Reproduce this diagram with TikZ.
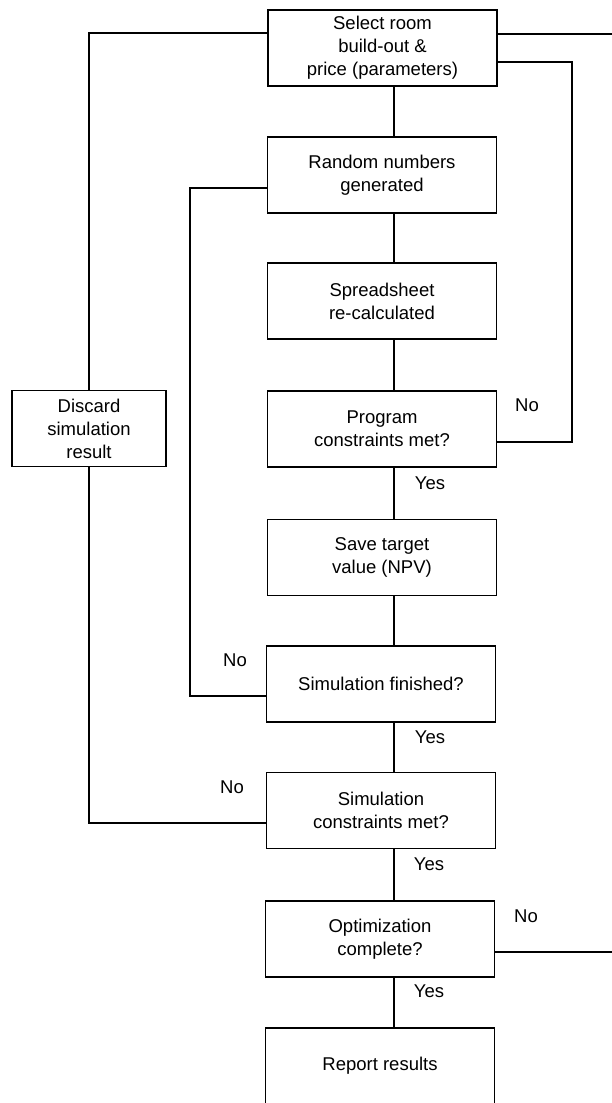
\documentclass[tikz,border=0pt]{standalone}
\usepackage{fontspec}
\setmainfont{Liberation Sans}
\usetikzlibrary{calc}

\begin{document}
\begin{tikzpicture}[x=1pt,y=-1pt,line width=1.1pt,
	box/.style={draw,rectangle,align=center,minimum width=229pt,minimum height=76pt,inner sep=2pt,font=\fontsize{18.5}{23}\selectfont},
	lbl/.style={font=\fontsize{18.5}{23}\selectfont}]
		\useasboundingbox (0,0) rectangle (612,1103);
		\clip (0,0) rectangle (612,1103);

		\node[box] (sel) at (382.5,48) {Select room\\build-out \&\\price (parameters)};
		\node[box] (rand) at (382,175) {Random numbers\\generated};
		\node[box] (spread) at (382,301) {Spreadsheet\\re-calculated};
		\node[box] (prog) at (382,429) {Program\\constraints met?};
		\node[box] (save) at (382,557.5) {Save target\\value (NPV)};
		\node[box] (simfin) at (381,684) {Simulation finished?};
		\node[box] (simcon) at (381,810.5) {Simulation\\constraints met?};
		\node[box] (opt) at (380,939) {Optimization\\complete?};
		\node[box] (report) at (380,1066) {Report results};
		\node[box,minimum width=154pt] (discard) at (89,428.5) {Discard\\simulation\\result};

		\coordinate (spine) at (394,0);
		\coordinate (inner) at (190,0);
		\coordinate (outer) at (572,62);

		\draw (sel.south -| spine) -- (rand.north -| spine);
		\draw (rand.south -| spine) -- (spread.north -| spine);
		\draw (spread.south -| spine) -- (prog.north -| spine);
		\draw (prog.south -| spine) -- (save.north -| spine);
		\draw (save.south -| spine) -- (simfin.north -| spine);
		\draw (simfin.south -| spine) -- (simcon.north -| spine);
		\draw (simcon.south -| spine) -- (opt.north -| spine);
		\draw (opt.south -| spine) -- (report.north -| spine);

		\draw (prog.east |- 0,442) -| (outer) -- (sel.east |- outer);
		\draw (sel.east |- 0,34) -- (612,34);
		\draw (opt.east |- 0,952) -- (612,952);

		\draw (simfin.west |- 0,696) -| (inner |- 0,188) -- (rand.west |- 0,188);
		\draw (simcon.west |- 0,823) -| (discard.south);
		\draw (discard.north) |- (sel.west |- 0,33);

		\node[lbl] (no1) at (527,405) {No};
		\node[lbl] (yes1) at (430,483) {Yes};
		\node[lbl] (no2) at (235,660) {No};
		\node[lbl] (yes2) at (430,737) {Yes};
		\node[lbl] (no3) at (232,787) {No};
		\node[lbl] (yes3) at (429,864) {Yes};
		\node[lbl] (no4) at (526,916) {No};
		\node[lbl] (yes4) at (429,991) {Yes};
\end{tikzpicture}
\end{document}
